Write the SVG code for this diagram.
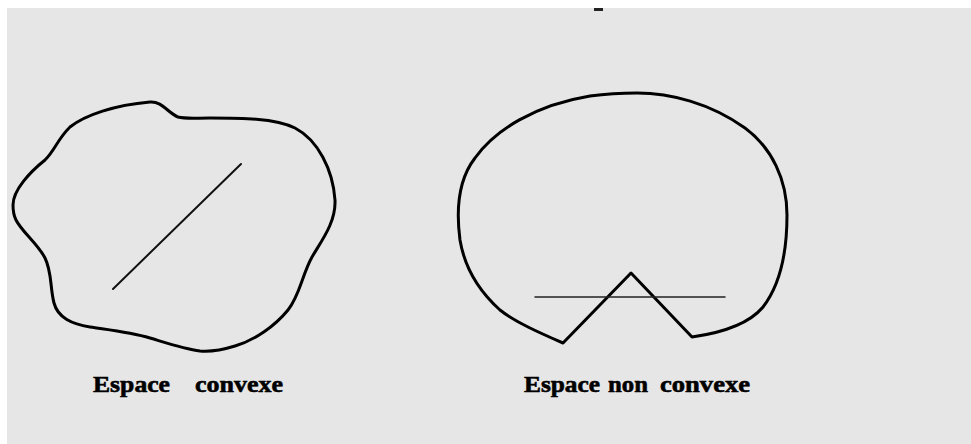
<svg xmlns="http://www.w3.org/2000/svg" width="971" height="444" viewBox="0 0 971 444">
<style>
.outline{fill:none;stroke:#000;stroke-width:3;stroke-linejoin:round}
.seg{fill:none;stroke:#111;stroke-width:2;stroke-linecap:round}
.lbl{font-family:"Liberation Serif","Times New Roman",serif;font-weight:bold;font-size:24px;fill:#000;stroke:#000;stroke-width:0.6}
</style>
<rect x="0" y="0" width="971" height="444" fill="#ffffff"/>
<rect x="7" y="8" width="964" height="436" fill="#e6e6e6"/>
<rect x="594" y="8" width="9" height="3" fill="#222"/>
<g id="convexe">
<path class="outline" d="M13,205 C13,190 30,172 45,160 C55,150 57,140 70,127 C85,115 115,105 150,102 C162,101 168,113 178,117 C185,119 195,118 210,118 C240,118 275,118 295,128 C318,140 333,170 335,200 C336,222 322,240 312,257 C302,275 300,295 288,310 C275,326 255,340 235,346 C222,350 210,352 200,351 C185,349 170,344 150,338 C130,332 110,330 90,327 C72,324 58,318 54,303 C50,288 52,272 45,258 C38,244 22,232 16,220 C13,214 13,208 13,205 Z"/>
<text class="lbl" x="93" y="392" textLength="77" lengthAdjust="spacingAndGlyphs">Espace</text>
<text class="lbl" x="195" y="392" textLength="88" lengthAdjust="spacingAndGlyphs">convexe</text>
</g>
<g id="non-convexe">
<path class="outline" d="M637,93 C670,93 710,103 745,128 C772,148 787,180 787,215 C787,255 780,285 763,307 C748,325 720,333 692,337 L631,273 L563,343 C540,333 515,322 500,310 C480,292 465,270 460,240 C456,210 458,180 475,158 C495,130 535,105 590,96 C605,94 620,93 637,93 Z"/>
<text class="lbl" x="524" y="392" textLength="76" lengthAdjust="spacingAndGlyphs">Espace</text>
<text class="lbl" x="608" y="392" textLength="40" lengthAdjust="spacingAndGlyphs">non</text>
<text class="lbl" x="660" y="392" textLength="90" lengthAdjust="spacingAndGlyphs">convexe</text>
</g>
<g id="connectors">
<line class="seg" x1="113" y1="289" x2="241" y2="164"/>
<line class="seg" x1="535" y1="297" x2="725" y2="297" style="stroke-width:1.5;stroke:#222"/>
</g>
</svg>
